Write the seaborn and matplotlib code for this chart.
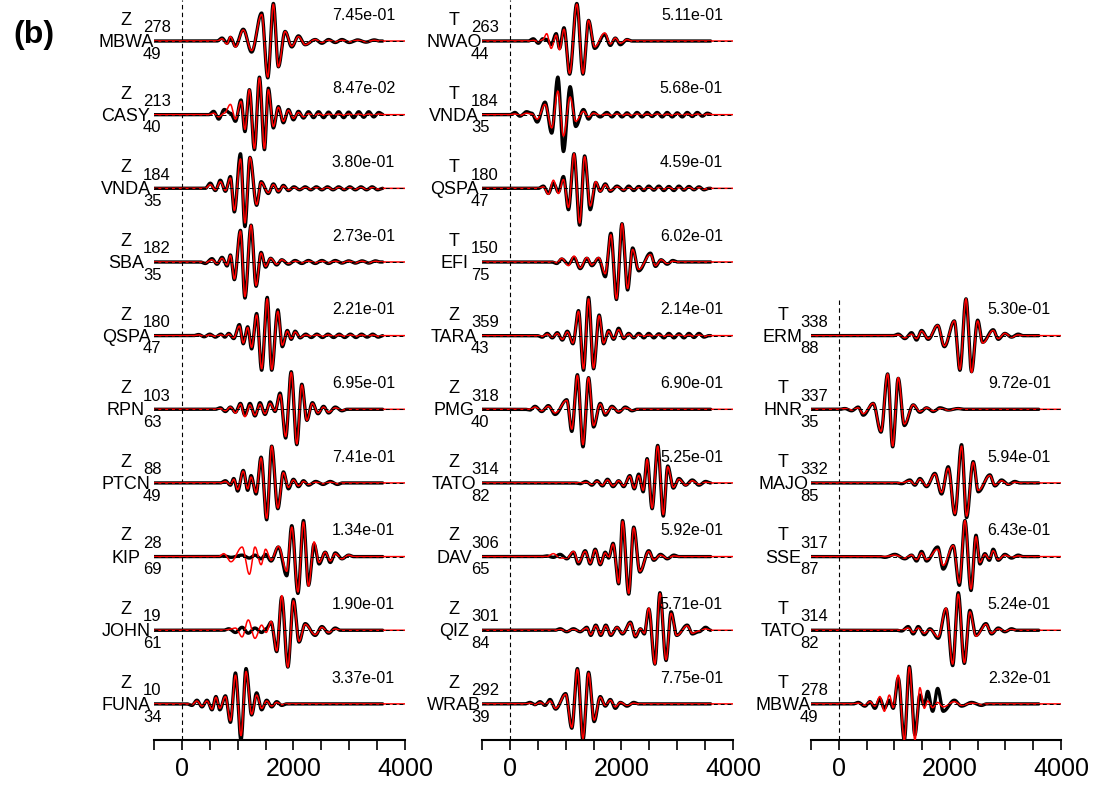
import numpy as np
import matplotlib
matplotlib.use("Agg")
import matplotlib.pyplot as plt
import seaborn as sns

# ---------------- metadata ----------------
col1_components = ["Z"] * 10
col1_stations = ["MBWA", "CASY", "VNDA", "SBA", "QSPA", "RPN", "PTCN", "KIP", "JOHN", "FUNA"]
col1_azimuths = [278, 213, 184, 182, 180, 103, 88, 28, 19, 10]
col1_distances = [49, 40, 35, 35, 47, 63, 49, 69, 61, 34]
col1_amplitudes = [7.45e-01, 8.47e-02, 3.80e-01, 2.73e-01, 2.21e-01, 6.95e-01, 7.41e-01, 1.34e-01, 1.90e-01, 3.37e-01]

col2_components = ["T", "T", "T", "T", "Z", "Z", "Z", "Z", "Z", "Z"]
col2_stations = ["NWAO", "VNDA", "QSPA", "EFI", "TARA", "PMG", "TATO", "DAV", "QIZ", "WRAB"]
col2_azimuths = [263, 184, 180, 150, 359, 318, 314, 306, 301, 292]
col2_distances = [44, 35, 47, 75, 43, 40, 82, 65, 84, 39]
col2_amplitudes = [5.11e-01, 5.68e-01, 4.59e-01, 6.02e-01, 2.14e-01, 6.90e-01, 5.25e-01, 5.92e-01, 5.71e-01, 7.75e-01]

col3_first_row = 4
col3_components = ["T"] * 6
col3_stations = ["ERM", "HNR", "MAJO", "SSE", "TATO", "MBWA"]
col3_azimuths = [338, 337, 332, 317, 314, 278]
col3_distances = [88, 35, 85, 87, 82, 49]
col3_amplitudes = [5.30e-01, 9.72e-01, 5.94e-01, 6.43e-01, 5.24e-01, 2.32e-01]

# ---------------- waveform extrema (time s, normalized amplitude) ----------------
col1_times = [
    [720, 810, 870, 960, 1100, 1250, 1430, 1540, 1640, 1730, 1850, 1970, 2090, 2210, 2390, 2510, 2630, 2750, 2870, 3000, 3150, 3300, 3450],
    [570, 660, 760, 870, 960, 1060, 1130, 1210, 1300, 1390, 1480, 1550, 1640, 1730, 1820, 1910, 2000, 2090, 2180,
     2270, 2360, 2450, 2540, 2630, 2720, 2810, 2900, 2990, 3080, 3170, 3260, 3350, 3440, 3530],
    [510, 600, 690, 780, 870, 940, 1050, 1130, 1220, 1340, 1420, 1550, 1640, 1730, 1820, 1910,
     2010, 2110, 2210, 2310, 2410, 2510, 2610, 2710, 2810, 2910, 3010, 3110, 3210, 3310, 3410, 3510],
    [420, 540, 630, 720, 810, 870, 940, 1050, 1130, 1240, 1330, 1420, 1500, 1590, 1700, 1790, 1910,
     2030, 2150, 2270, 2390, 2510, 2630, 2750, 2870, 2990, 3110, 3230, 3350, 3470],
    [300, 400, 500, 600, 700, 770, 840, 930, 1030, 1100, 1180, 1250, 1340, 1430, 1530, 1610, 1720, 1800, 1890, 1960, 2030, 2120,
     2220, 2320, 2420, 2520, 2620, 2720, 2820, 2920, 3020, 3120, 3220, 3320, 3420, 3520],
    [690, 780, 870, 960, 1050, 1130, 1220, 1310, 1400, 1490, 1580, 1670, 1760, 1860, 1960, 2060, 2150, 2240, 2340, 2440, 2540, 2630, 2750, 2870],
    [780, 870, 930, 1000, 1100, 1180, 1240, 1330, 1420, 1520, 1610, 1720, 1820, 1910, 2000, 2090, 2180, 2270, 2400, 2530, 2660, 2790],
    [750, 880, 1080, 1210, 1310, 1420, 1500, 1600, 1730, 1880, 1970, 2080, 2180, 2270, 2370, 2460, 2570, 2660, 2750, 2870, 2990],
    [840, 960, 1080, 1190, 1310, 1430, 1510, 1600, 1700, 1790, 1900, 2000, 2100, 2210, 2390, 2510, 2630, 2750],
    [180, 270, 360, 450, 540, 610, 680, 780, 870, 960, 1060, 1150, 1250, 1340, 1430, 1520, 1610, 1700, 1790],
]
col1_black = [
    [0.04, -0.03, 0.05, -0.07, 0.16, -0.15, 0.38, -0.50, 0.51, -0.35, 0.13, -0.08, 0.07, -0.05, 0.02, -0.03, 0.02, -0.02, 0.02, -0.02, 0.015, -0.015, 0.015],
    [0.045, -0.06, 0.07, 0.02, -0.09, 0.20, -0.23, 0.34, -0.475, 0.51, -0.475, 0.36, -0.18, 0.11, -0.11, 0.07, -0.07, 0.045, -0.045,
     0.04, -0.04, 0.04, -0.04, 0.035, -0.04, 0.04, -0.04, 0.035, -0.04, 0.04, -0.035, 0.04, -0.03, 0.03],
    [0.07, -0.03, 0.11, -0.04, 0.16, -0.32, 0.47, -0.52, 0.42, -0.23, 0.09, -0.07, 0.06, -0.05, 0.04, -0.03,
     0.02, -0.02, 0.02, -0.02, 0.02, -0.02, 0.02, -0.02, 0.02, -0.02, 0.02, -0.02, 0.02, -0.02, 0.02, -0.02],
    [-0.02, 0.045, -0.03, 0.063, -0.054, 0.095, -0.24, 0.43, -0.49, 0.50, -0.33, 0.13, -0.07, 0.05, -0.04, 0.03, -0.03,
     0.02, -0.02, 0.02, -0.02, 0.02, -0.02, 0.02, -0.015, 0.015, -0.015, 0.015, -0.015, 0.015],
    [0.015, -0.015, 0.02, -0.02, 0.02, -0.02, 0.03, -0.04, 0.15, -0.11, 0.12, -0.18, 0.30, -0.47, 0.52, -0.47, 0.35, -0.15, 0.07, -0.05, 0.06, -0.03,
     0.02, -0.025, 0.02, -0.025, 0.02, -0.025, 0.02, -0.025, 0.02, -0.025, 0.02, -0.02, 0.02, -0.02],
    [0.02, -0.03, 0.03, -0.04, 0.08, -0.08, 0.08, -0.09, 0.09, -0.07, 0.10, -0.03, 0.22, -0.39, 0.51, -0.48, 0.34, -0.15, 0.09, -0.06, 0.04, -0.05, 0.03, -0.02],
    [0.03, -0.03, 0.06, -0.11, 0.17, -0.10, 0.10, -0.15, 0.35, -0.50, 0.50, -0.35, 0.15, -0.08, 0.05, -0.05, 0.03, -0.03, 0.02, -0.02, 0.02, -0.02],
    [0.01, -0.01, 0.02, -0.02, 0.02, -0.03, 0.03, -0.06, 0.13, -0.26, 0.42, -0.50, 0.49, -0.39, 0.17, -0.10, 0.06, -0.08, 0.05, -0.03, 0.02],
    [0.02, -0.03, 0.04, -0.04, 0.03, -0.03, 0.02, 0.11, -0.29, 0.45, -0.50, 0.42, -0.16, 0.09, -0.07, 0.05, -0.04, 0.03],
    [-0.02, 0.05, -0.04, 0.05, -0.08, 0.10, -0.08, 0.11, -0.25, 0.42, -0.49, 0.48, -0.15, 0.15, -0.08, 0.05, -0.04, 0.03, -0.02],
]
col1_red = [
    [0.03, -0.04, 0.06, -0.08, 0.15, -0.13, 0.36, -0.49, 0.50, -0.35, 0.13, -0.07, 0.06, -0.05, 0.02, -0.02, 0.01, -0.01, 0.01, -0.01, 0.01, -0.01, 0.01],
    [0.02, -0.03, 0.02, 0.14, -0.06, 0.18, -0.20, 0.34, -0.46, 0.50, -0.46, 0.34, -0.16, 0.10, -0.09, 0.06, -0.05, 0.03, -0.03,
     0.015, -0.015, 0.015, -0.01, 0.01, -0.01, 0.01, -0.01, 0.01, -0.01, 0.01, -0.01, 0.01, -0.01, 0.01],
    [0.05, -0.02, 0.09, -0.03, 0.14, -0.30, 0.40, -0.47, 0.42, -0.22, 0.08, -0.06, 0.05, -0.04, 0.03, -0.02,
     0.01, -0.01, 0.01, -0.01, 0.01, -0.01, 0.01, -0.01, 0.01, -0.01, 0.01, -0.01, 0.01, -0.01, 0.01, -0.01],
    [-0.01, 0.03, -0.02, 0.05, -0.04, 0.09, -0.23, 0.42, -0.47, 0.50, -0.32, 0.12, -0.06, 0.05, -0.03, 0.03, -0.02,
     0.01, -0.01, 0.01, -0.01, 0.01, -0.01, 0.01, -0.01, 0.01, -0.01, 0.01, -0.01, 0.01],
    [0.01, -0.01, 0.01, -0.01, 0.01, -0.01, 0.02, -0.03, 0.13, -0.10, 0.11, -0.16, 0.28, -0.45, 0.50, -0.46, 0.33, -0.13, 0.06, -0.04, 0.05, -0.02,
     0.01, -0.01, 0.01, -0.01, 0.01, -0.01, 0.01, -0.01, 0.01, -0.01, 0.01, -0.01, 0.01, -0.01],
    [0.01, -0.02, 0.03, -0.05, 0.07, -0.10, 0.06, -0.08, 0.07, -0.06, 0.08, -0.02, 0.20, -0.37, 0.50, -0.47, 0.33, -0.15, 0.08, -0.05, 0.03, -0.04, 0.02, -0.01],
    [0.02, -0.02, 0.05, -0.09, 0.16, -0.08, 0.08, -0.13, 0.34, -0.48, 0.50, -0.34, 0.14, -0.06, 0.04, -0.04, 0.02, -0.02, 0.01, -0.01, 0.01, -0.01],
    [0.04, -0.07, 0.13, -0.24, 0.13, -0.11, 0.10, -0.05, 0.14, -0.20, 0.40, -0.48, 0.47, -0.40, 0.20, -0.08, 0.06, -0.06, 0.04, -0.03, 0.02],
    [0.01, 0.03, -0.09, 0.14, -0.11, 0.07, -0.03, 0.12, -0.28, 0.47, -0.50, 0.40, -0.15, 0.08, -0.06, 0.04, -0.03, 0.02],
    [-0.01, 0.04, -0.03, 0.04, -0.07, 0.09, -0.06, 0.10, -0.23, 0.39, -0.43, 0.44, -0.14, 0.12, -0.06, 0.04, -0.03, 0.02, -0.01],
]

col2_times = [
    [420, 510, 590, 660, 740, 830, 890, 970, 1070, 1200, 1310, 1410, 1520, 1700, 1800, 1890, 1980, 2100],
    [90, 180, 300, 390, 490, 630, 750, 860, 960, 1080, 1180, 1320, 1410, 1500, 1620, 1740,
     1830, 1920, 2010, 2100, 2190, 2280, 2370, 2460, 2550, 2640, 2730, 2820, 2910, 3000, 3090, 3180, 3270, 3360, 3450, 3540],
    [600, 690, 780, 870, 960, 1050, 1150, 1250, 1340, 1440, 1540, 1620, 1710, 1800, 1920, 2040,
     2130, 2220, 2310, 2400, 2490, 2580, 2670, 2760, 2850, 2940, 3030, 3120, 3210, 3300, 3390, 3480],
    [840, 930, 1050, 1150, 1260, 1380, 1470, 1590, 1710, 1810, 1910, 2010, 2110, 2200, 2310, 2520, 2610, 2710, 2820, 2920],
    [580, 670, 760, 850, 940, 1030, 1130, 1230, 1320, 1410, 1500, 1600, 1680, 1770, 1860, 1950, 2040, 2130, 2220,
     2310, 2400, 2490, 2580, 2670, 2760, 2850, 2940, 3030, 3120, 3210, 3300, 3390, 3480],
    [360, 450, 570, 690, 810, 1020, 1110, 1210, 1310, 1410, 1500, 1620, 1710, 1830, 1950, 2070, 2190],
    [1260, 1360, 1470, 1560, 1660, 1750, 1850, 1950, 2040, 2150, 2230, 2310, 2390, 2460, 2550, 2650, 2750, 2830, 2930, 3030, 3150, 3270, 3390, 3510],
    [660, 780, 900, 1020, 1140, 1230, 1350, 1440, 1530, 1620, 1710, 1770, 1850, 1950, 2020, 2130, 2220, 2330, 2490, 2580, 2700, 2820, 2940],
    [900, 1020, 1140, 1260, 1380, 1450, 1540, 1630, 1720, 1810, 1920, 2020, 2160, 2250, 2340, 2410, 2490, 2600, 2690, 2800, 2890, 2990, 3180, 3270, 3390, 3510],
    [360, 450, 540, 630, 720, 820, 1000, 1110, 1210, 1310, 1410, 1510, 1620, 1710, 1800, 1890, 1980, 2100, 2220],
]
col2_black = [
    [0.03, -0.03, 0.03, 0.02, -0.05, 0.10, -0.10, 0.18, -0.45, 0.51, -0.45, 0.28, -0.10, 0.09, -0.06, 0.04, -0.05, 0.02],
    [0.03, -0.02, 0.04, 0.02, -0.10, 0.17, -0.25, 0.51, -0.50, 0.38, -0.16, 0.07, -0.06, 0.03, -0.03, 0.03,
     -0.03, 0.03, -0.03, 0.025, -0.03, 0.03, -0.03, 0.03, -0.025, 0.03, -0.03, 0.03, -0.03, 0.025, -0.03, 0.03, -0.025, 0.03, -0.02, 0.02],
    [0.03, -0.07, 0.07, -0.05, 0.16, -0.29, 0.47, -0.50, 0.44, -0.29, 0.08, -0.04, 0.06, -0.04, 0.03, -0.03,
     0.03, -0.03, 0.025, -0.03, 0.03, -0.025, 0.03, -0.03, 0.025, -0.03, 0.03, -0.025, 0.025, -0.02, 0.02, -0.02],
    [-0.02, 0.04, -0.03, 0.06, -0.09, 0.05, -0.05, 0.05, -0.20, 0.39, -0.51, 0.52, -0.38, 0.19, -0.12, 0.12, -0.06, 0.03, -0.03, 0.02],
    [-0.02, 0.03, -0.03, 0.04, -0.06, 0.06, -0.11, 0.34, -0.47, 0.52, -0.45, 0.28, -0.11, 0.07, -0.05, 0.10, -0.04, 0.03, -0.03,
     0.03, -0.03, 0.03, -0.03, 0.025, -0.03, 0.03, -0.03, 0.025, -0.03, 0.03, -0.025, 0.03, -0.02],
    [-0.01, 0.04, -0.03, 0.05, -0.07, 0.13, -0.30, 0.47, -0.51, 0.43, -0.24, 0.08, -0.08, 0.04, -0.04, 0.03, -0.02],
    [-0.01, 0.02, -0.03, 0.03, -0.04, 0.05, -0.05, 0.03, -0.05, 0.10, -0.08, 0.12, -0.12, 0.33, -0.35, 0.51, -0.45, 0.23, -0.07, 0.06, -0.03, 0.04, -0.03, 0.02],
    [0.01, -0.01, 0.03, -0.03, 0.06, -0.10, 0.08, -0.10, 0.10, -0.11, 0.06, -0.02, 0.18, -0.37, 0.49, -0.51, 0.40, -0.21, 0.08, -0.05, 0.03, -0.03, 0.02],
    [0.02, -0.02, 0.02, -0.02, 0.04, -0.07, 0.07, -0.07, 0.07, -0.07, 0.04, -0.05, 0.11, -0.09, 0.02, -0.05, 0.29, -0.46, 0.51, -0.41, 0.25, -0.07, 0.07, -0.05, -0.02, 0.04],
    [0.02, -0.01, 0.03, -0.02, 0.06, -0.07, 0.14, -0.33, 0.48, -0.49, 0.43, -0.24, 0.10, -0.03, 0.06, -0.06, 0.02, -0.03, 0.02],
]
col2_red = [
    [0.01, -0.01, 0.02, 0.10, -0.10, 0.08, -0.12, 0.16, -0.44, 0.50, -0.44, 0.28, -0.08, 0.11, -0.04, 0.04, -0.03, 0.02],
    [0.01, -0.01, 0.02, 0.01, -0.06, 0.14, -0.18, 0.32, -0.29, 0.24, -0.09, 0.045, -0.03, 0.02, -0.01, 0.01,
     -0.01, 0.01, -0.01, 0.01, -0.01, 0.01, -0.01, 0.01, -0.01, 0.01, -0.01, 0.01, -0.01, 0.01, -0.01, 0.01, -0.01, 0.01, -0.01, 0.01],
    [0.02, -0.08, 0.11, -0.07, 0.12, -0.26, 0.47, -0.47, 0.43, -0.24, 0.09, -0.04, 0.05, -0.03, 0.02, -0.02,
     0.01, -0.01, 0.01, -0.01, 0.01, -0.01, 0.01, -0.01, 0.01, -0.01, 0.01, -0.01, 0.01, -0.01, 0.01, -0.01],
    [-0.01, 0.05, -0.05, 0.08, -0.08, 0.06, -0.04, 0.06, -0.16, 0.37, -0.50, 0.52, -0.36, 0.17, -0.10, 0.10, -0.05, 0.03, -0.02, 0.01],
    [-0.01, 0.02, -0.02, 0.03, -0.05, 0.05, -0.10, 0.33, -0.45, 0.50, -0.44, 0.27, -0.10, 0.06, -0.04, 0.08, -0.03, 0.02, -0.02,
     0.01, -0.01, 0.01, -0.01, 0.01, -0.01, 0.01, -0.01, 0.01, -0.01, 0.01, -0.01, 0.01, -0.01],
    [0.0, 0.03, -0.02, 0.04, -0.05, 0.12, -0.27, 0.46, -0.48, 0.43, -0.22, 0.07, -0.06, 0.03, -0.03, 0.02, -0.01],
    [0.0, 0.01, -0.02, 0.02, -0.03, 0.04, -0.04, 0.03, -0.04, 0.09, -0.07, 0.10, -0.10, 0.32, -0.34, 0.50, -0.43, 0.22, -0.06, 0.05, -0.03, 0.03, -0.02, 0.01],
    [0.0, 0.04, -0.02, -0.02, 0.07, -0.08, 0.07, -0.09, 0.09, -0.10, 0.05, -0.01, 0.17, -0.36, 0.48, -0.50, 0.39, -0.20, 0.07, -0.04, 0.02, -0.02, 0.01],
    [0.01, -0.01, 0.01, -0.01, 0.03, -0.06, 0.06, -0.06, 0.06, -0.06, 0.04, -0.04, 0.10, -0.08, 0.02, -0.04, 0.30, -0.46, 0.50, -0.40, 0.23, -0.07, 0.06, -0.04, -0.01, 0.02],
    [0.01, -0.01, 0.02, -0.01, 0.04, -0.06, 0.13, -0.32, 0.47, -0.47, 0.42, -0.22, 0.09, -0.02, 0.05, -0.04, 0.02, -0.02, 0.01],
]

col3_times = [
    [1070, 1190, 1310, 1400, 1490, 1610, 1780, 1900, 2080, 2180, 2290, 2390, 2500, 2590, 2780, 2870, 2990, 3110, 3230],
    [110, 230, 350, 440, 620, 760, 880, 970, 1070, 1180, 1340, 1460, 1580, 1700, 1820, 1970, 2150],
    [1130, 1280, 1370, 1460, 1580, 1730, 1850, 1970, 2090, 2210, 2300, 2420, 2510, 2720, 2810, 2930, 3050, 3170],
    [830, 1010, 1190, 1310, 1400, 1490, 1580, 1780, 1880, 2060, 2170, 2270, 2380, 2470, 2540, 2630, 2710, 2780, 2870, 2990, 3110, 3230],
    [1130, 1250, 1340, 1430, 1540, 1640, 1790, 1930, 2050, 2150, 2260, 2360, 2470, 2650, 2750, 2870, 2990, 3110],
    [350, 470, 560, 650, 740, 820, 910, 980, 1070, 1180, 1270, 1370, 1460, 1540, 1600, 1690, 1780, 1880, 2080, 2210, 2390, 2570],
]
col3_black = [
    [0.02, -0.04, 0.04, -0.06, 0.07, -0.05, 0.14, -0.15, 0.20, -0.47, 0.50, -0.49, 0.21, -0.09, 0.08, -0.05, 0.03, -0.02, 0.02],
    [0.01, -0.02, 0.03, -0.08, 0.08, -0.31, 0.48, -0.51, 0.42, -0.22, 0.06, -0.04, 0.02, -0.03, 0.02, -0.01, 0.01],
    [-0.01, 0.04, -0.03, 0.06, -0.05, 0.13, -0.15, 0.22, -0.43, 0.52, -0.47, 0.29, -0.12, 0.11, -0.04, 0.04, -0.02, 0.02],
    [-0.01, 0.03, -0.03, 0.02, -0.06, 0.07, -0.06, 0.13, -0.17, 0.15, -0.39, 0.49, -0.46, 0.29, -0.10, 0.04, -0.05, 0.10, -0.05, 0.03, -0.02, 0.02],
    [-0.01, 0.05, -0.05, 0.05, -0.06, 0.02, -0.11, 0.29, -0.48, 0.51, -0.45, 0.27, -0.07, 0.09, -0.05, 0.03, -0.02, 0.02],
    [0.02, -0.03, 0.03, -0.06, 0.07, -0.06, 0.05, -0.06, 0.35, -0.49, 0.51, -0.42, 0.12, -0.02, 0.17, -0.10, 0.21, -0.10, 0.05, -0.03, 0.02, -0.02],
]
col3_red = [
    [0.01, -0.03, 0.02, -0.04, 0.06, -0.04, 0.14, -0.14, 0.20, -0.46, 0.50, -0.50, 0.20, -0.10, 0.07, -0.04, 0.03, -0.02, 0.01],
    [0.01, -0.01, 0.02, -0.06, 0.08, -0.30, 0.48, -0.50, 0.43, -0.20, 0.06, -0.03, 0.02, -0.02, 0.01, -0.01, 0.01],
    [0.0, 0.03, -0.02, 0.05, -0.04, 0.12, -0.13, 0.20, -0.42, 0.50, -0.45, 0.28, -0.10, 0.10, -0.03, 0.03, -0.02, 0.01],
    [0.0, 0.02, -0.02, 0.02, -0.04, 0.05, -0.04, 0.10, -0.12, 0.15, -0.36, 0.49, -0.44, 0.27, -0.08, 0.03, -0.03, 0.08, -0.04, 0.02, -0.01, 0.01],
    [0.0, 0.03, -0.03, 0.03, -0.04, 0.01, -0.09, 0.30, -0.46, 0.49, -0.44, 0.25, -0.08, 0.08, -0.04, 0.02, -0.01, 0.01],
    [0.01, -0.02, 0.03, -0.03, 0.10, -0.10, 0.12, -0.05, 0.39, -0.49, 0.50, -0.49, 0.22, -0.06, 0.04, -0.05, 0.02, -0.04, 0.03, -0.02, 0.01, -0.01],
]

# ---------------- styling ----------------
sns.set_theme(style="ticks")
plt.rcParams["font.family"] = ["Liberation Sans", "DejaVu Sans"]
plt.rcParams["text.color"] = "black"
plt.rcParams["xtick.color"] = "black"
plt.rcParams["axes.edgecolor"] = "black"
plt.rcParams["axes.labelcolor"] = "black"

X_MIN, X_MAX = -500, 4000
BLACK_END = 3600
Y_TOP, Y_BOT = 0.557, -9.49


def trace_curve(times, amps, t_end):
    t = [times[0] - 90] + list(times) + [times[-1] + 90]
    a = [0.0] + list(amps) + [0.0]
    grid = np.arange(X_MIN, t_end + 1, 4.0)
    y = np.zeros_like(grid)
    for i in range(len(t) - 1):
        m = (grid >= t[i]) & (grid <= t[i + 1])
        s = (grid[m] - t[i]) / (t[i + 1] - t[i])
        y[m] = a[i] + (a[i + 1] - a[i]) * (1 - np.cos(np.pi * s)) / 2
    return grid, y


fig = plt.figure(figsize=(10.94, 7.90), dpi=100)

columns = [
    (154, 251, 0, col1_components, col1_stations, col1_azimuths, col1_distances, col1_amplitudes, col1_times, col1_black, col1_red),
    (482, 251, 0, col2_components, col2_stations, col2_azimuths, col2_distances, col2_amplitudes, col2_times, col2_black, col2_red),
    (811, 250, col3_first_row, col3_components, col3_stations, col3_azimuths, col3_distances, col3_amplitudes, col3_times, col3_black, col3_red),
]

for left_px, width_px, first_row, comps, stas, azs, dists, amps_txt, tlist, blist, rlist in columns:
    ax = fig.add_axes([left_px / 1094, 50 / 790, width_px / 1094, 740 / 790])
    ax.set_xlim(X_MIN, X_MAX)
    ax.set_ylim(Y_BOT, Y_TOP)
    upp = (X_MAX - X_MIN) / width_px

    # zero-time reference line
    vtop = Y_TOP if first_row == 0 else -first_row + 0.48
    ax.plot([0, 0], [Y_BOT, vtop], color="black", lw=0.8, ls=(0, (4, 3)), zorder=1)

    for k in range(len(stas)):
        row = first_row + k
        base = -row
        gx, gy = trace_curve(tlist[k], blist[k], BLACK_END)
        sns.lineplot(x=gx, y=base + gy, ax=ax, color="black", lw=2.4, estimator=None, sort=False, zorder=2)
        rx, ry = trace_curve(tlist[k], rlist[k], X_MAX)
        sns.lineplot(x=rx, y=base + ry, ax=ax, color="red", lw=1.1, estimator=None, sort=False, zorder=3)
        ax.plot([X_MIN, X_MAX], [base, base], color="black", lw=0.7, ls=(0, (4, 3)), zorder=4)

        xc = X_MIN - 28 * upp
        xl = X_MIN - 11 * upp
        ax.text(xc, base + 0.28, comps[k], ha="center", va="center", fontsize=13, clip_on=False)
        ax.text(xc, base - 0.02, stas[k], ha="center", va="center", fontsize=13, clip_on=False)
        ax.text(xl, base + 0.18, str(azs[k]), ha="left", va="center", fontsize=12, clip_on=False)
        ax.text(xl, base - 0.18, str(dists[k]), ha="left", va="center", fontsize=12, clip_on=False)
        ax.text(X_MAX - 10 * upp, base + 0.35, f"{amps_txt[k]:.2e}", ha="right", va="center", fontsize=11.5, clip_on=False)

    sns.despine(ax=ax, left=True, top=True, right=True)
    ax.spines["bottom"].set_linewidth(1.5)
    ax.set_yticks([])
    ax.set_xticks([0, 2000, 4000])
    ax.set_xticks(np.arange(-500, 4001, 500), minor=True)
    ax.tick_params(axis="x", which="both", direction="out", length=7, width=1.2, labelsize=18, pad=5, colors="black")
    ax.set_xlabel("")
    ax.set_ylabel("")
    if ax.get_legend() is not None:
        ax.get_legend().remove()

fig.text(34 / 1094, 1 - 35 / 790, "(b)", ha="center", va="center", fontsize=23, fontweight="bold", color="black")

fig.savefig("out.png", dpi=100)
